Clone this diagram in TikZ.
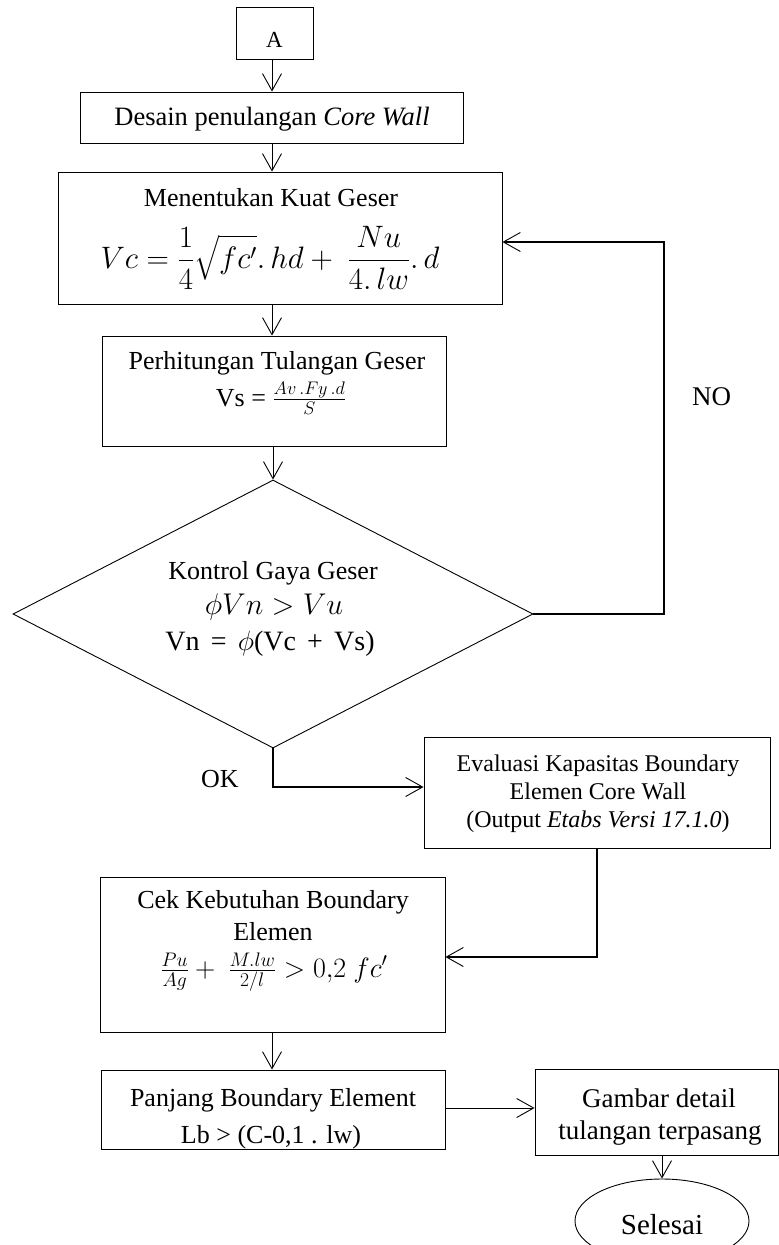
\RequirePackage{fix-cm}
\documentclass[tikz,border=0pt]{standalone}
\usepackage{amsmath}
\usepackage{fontspec}
\setmainfont{Liberation Serif}
\usetikzlibrary{arrows.meta,shapes.geometric}

\tikzset{
  x=1pt, y=-1pt,
  box/.style={draw, line width=0.9pt, rectangle, inner sep=0pt},
  lbl/.style={inner sep=0pt, anchor=base, font=\fontsize{26}{31}\selectfont},
  small/.style={lbl, font=\fontsize{24}{29}\selectfont},
  eqn/.style={inner sep=0pt, anchor=center},
  flow/.style={line width=0.9pt, -{Straight Barb[length=17pt,width=19pt,line width=0.9pt]}},
  elbow/.style={flow, line width=1.4pt},
}
\newcommand{\opsp}{\hspace{.4em}}

\begin{document}
\begin{tikzpicture}
\useasboundingbox (0,0) rectangle (779,1245);

% vertical spine shared by the main column of arrows
\coordinate (spine) at (272,0);

% start connector
\node[box, minimum width=77pt, minimum height=52pt] (a) at (274.5,33) {};
\node[lbl, font=\fontsize{23}{28}\selectfont] (ta) at (274.5,47) {A};

% design box
\node[box, minimum width=383pt, minimum height=51pt] (b2) at (271.5,117.5) {};
\node[lbl, font=\fontsize{26.5}{31}\selectfont] (t2) at (272,125) {Desain penulangan \textit{Core Wall}};

% shear strength of concrete
\node[box, minimum width=444pt, minimum height=132pt] (b3) at (280,238) {};
\node[lbl] (t3) at (271,206) {Menentukan Kuat Geser};
\node[eqn, font=\fontsize{31}{37}\selectfont] (e3) at (270,258)
  {$\displaystyle Vc=\frac{1}{4}\sqrt{fc'}.\,hd+\ \frac{Nu}{4.\,lw}.\,d$};

% shear reinforcement
\node[box, minimum width=344pt, minimum height=110pt] (b4) at (274,391) {};
\node[lbl] (t4) at (277,369) {Perhitungan Tulangan Geser};
\node[lbl] (e4) at (281,406) {Vs = $\frac{Av\,.Fy\,.d}{S}$};

% decision
\node[draw, diamond, line width=0.9pt, inner sep=0pt,
      minimum width=520pt, minimum height=268pt] (d) at (273,614) {};
\node[lbl] (td1) at (273,579) {Kontrol Gaya Geser};
\node[eqn, font=\fontsize{30}{36}\selectfont] (td2) at (274,607) {$\phi Vn>Vu$};
\node[lbl, font=\fontsize{28}{33}\selectfont] (td3) at (270,650)
  {Vn\opsp=\opsp$\phi$(Vc\opsp+\opsp Vs)};

% boundary element evaluation
\node[box, minimum width=346pt, minimum height=111pt] (b5) at (597,792.5) {};
\node[small] (t5a) at (598,771) {Evaluasi Kapasitas Boundary};
\node[small] (t5b) at (598,799) {Elemen Core Wall};
\node[small] (t5c) at (598,827) {(Output \textit{Etabs Versi 17.1.0})};

% boundary element check
\node[box, minimum width=345pt, minimum height=155pt] (b6) at (272.5,954.5) {};
\node[lbl] (t6a) at (273,908) {Cek Kebutuhan Boundary};
\node[lbl] (t6b) at (273,940) {Elemen};
\node[eqn, font=\fontsize{28}{33}\selectfont] (e6) at (274,972)
  {$\frac{Pu}{Ag}+\ \frac{M.lw}{2/l}>0{,}2\ fc'$};

% boundary element length
\node[box, minimum width=344pt, minimum height=79pt] (b7) at (273,1109.5) {};
\node[lbl] (t7a) at (273,1106) {Panjang Boundary Element};
\node[lbl] (t7b) at (271,1143) {Lb > (C-0,1 . lw)};

% drawing of details
\node[box, minimum width=243pt, minimum height=86pt] (b8) at (656.5,1112) {};
\node[lbl, font=\fontsize{27}{32}\selectfont] (t8a) at (659,1107) {Gambar detail};
\node[lbl, font=\fontsize{27}{32}\selectfont] (t8b) at (660,1139) {tulangan terpasang};

% end
\node[draw, ellipse, line width=0.9pt, inner sep=0pt,
      minimum width=174pt, minimum height=84pt] (end) at (662,1221) {};
\node[lbl, font=\fontsize{29}{34}\selectfont] (tend) at (662,1234) {Selesai};

% branch labels
\node[lbl, font=\fontsize{27}{32}\selectfont] (no) at (711.5,405) {NO};
\node[lbl] (ok) at (220,787) {OK};

% helper points for the elbow connectors
\coordinate (noc) at (664,242);
\coordinate (okc) at (273,787);
\coordinate (chk) at (597,957);
\coordinate (row) at (0,1108);

% connectors
\draw[flow] (spine |- a.south) -- (spine |- b2.north);
\draw[flow] (spine |- b2.south) -- (spine |- b3.north);
\draw[flow] (spine |- b3.south) -- (spine |- b4.north);
\draw[flow] (d.north |- b4.south) -- (d.north);
\draw[elbow] (d.east) -| (noc) -- (b3.east |- noc);
\draw[elbow] (d.south) -- (okc) -- (b5.west |- okc);
\draw[elbow] (b5.south) |- (b6.east |- chk);
\draw[flow] (spine |- b6.south) -- (spine |- b7.north);
\draw[flow] (b7.east |- row) -- (b8.west |- row);
\draw[flow] (end.north |- b8.south) -- (end.north);
\end{tikzpicture}
\end{document}
